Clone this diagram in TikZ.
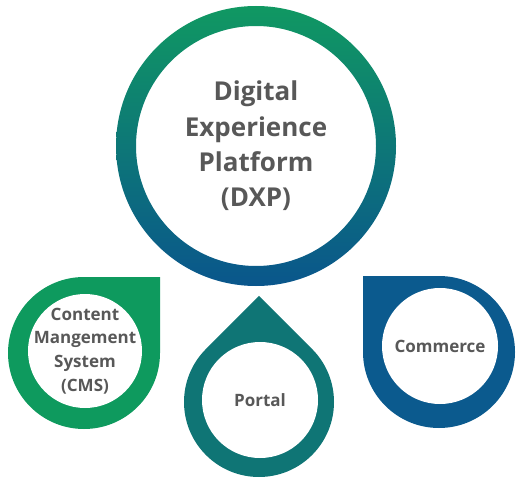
\documentclass[tikz,border=0pt]{standalone}
\usepackage{fontspec}
\setmainfont{Open Sans}
\usepackage{tikz}
\usetikzlibrary{positioning}
\definecolor{dxpgreen}{RGB}{16,152,98}
\definecolor{dxpblue}{RGB}{10,86,140}
\definecolor{cmsgreen}{RGB}{14,154,94}
\definecolor{portalteal}{RGB}{15,117,117}
\definecolor{commblue}{RGB}{11,90,142}
\definecolor{textgray}{RGB}{88,88,88}

\begin{document}
\begin{tikzpicture}[x=1pt,y=1pt,
              dxptext/.style={text=textgray,align=center,font=\fontsize{26}{35.3}\selectfont\bfseries},
              itemtext/.style={text=textgray,align=center,font=\fontsize{17}{23.7}\selectfont\bfseries}]
              \useasboundingbox (0,0) rectangle (519,480);
              % centres of the rings
              \coordinate (dxp) at (256,334);
              \coordinate (cms) at (84,127);
              \coordinate (cms_in) at (85,129);
              \coordinate (portal) at (259,78);
              \coordinate (portal_in) at (260,80);
              \coordinate (comm) at (439,128);
              \coordinate (comm_in) at (440,134);
              % big ring
              \shade[top color=dxpgreen,bottom color=dxpblue,even odd rule]
              (dxp) circle (140) (dxp) circle (120);
              % drops
              \fill[cmsgreen,shift={(cms)}] (76,76) -- (0,76)
              arc[start angle=90,end angle=360,radius=76] -- cycle;
              \fill[portalteal,shift={(portal)}] (0,106.07) -- (135:75)
              arc[start angle=135,end angle=405,radius=75] -- cycle;
              \fill[commblue,shift={(comm)}] (-76,76) -- (-76,0)
              arc[start angle=180,end angle=450,radius=76] -- cycle;
              \fill[white] (cms_in) circle (57);
              \fill[white] (portal_in) circle (58);
              \fill[white] (comm_in) circle (58);
              % texts
              \node[dxptext](dxp_txt) at (dxp){Digital\\Experience\\Platform\\(DXP)};
              \node[itemtext](cms_txt) at (cms_in){Content\\Mangement\\System\\(CMS)};
              \node[itemtext](portal_txt) at (portal_in){Portal};
              \node[itemtext](comm_txt) at (comm_in){Commerce};
          \end{tikzpicture}
\end{document}
